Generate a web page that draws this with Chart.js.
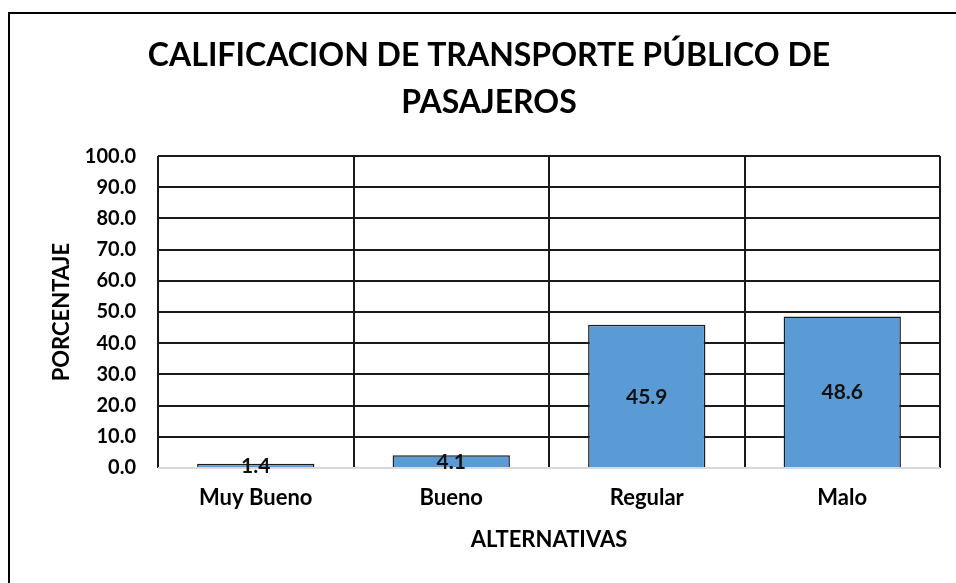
<!DOCTYPE html>
<html>
<head>
<meta charset="utf-8">
<script src="https://cdn.jsdelivr.net/npm/chart.js@4/dist/chart.umd.min.js"></script>
<style>
  html, body { margin: 0; padding: 0; background: #fff; overflow: hidden; }
  #frame {
    position: absolute; left: 8px; top: 12px; width: 1000px; height: 600px;
    border-left: 2px solid #000; border-top: 2px solid #000;
  }
  #wrap { position: absolute; left: 0; top: 0; width: 956px; height: 583px; }
</style>
</head>
<body>
<div id="frame"></div>
<div id="wrap"><canvas id="grafico" width="956" height="583"></canvas></div>
<script>
const categorias = ["Muy Bueno", "Bueno", "Regular", "Malo"];
const porcentajes = [1.4, 4.1, 45.9, 48.6];
const tituloLineas = ["CALIFICACION DE TRANSPORTE PÚBLICO DE", "PASAJEROS"];
const tituloY = "PORCENTAJE";
const tituloX = "ALTERNATIVAS";

const FUENTE = "Lato, 'Open Sans', sans-serif";

// etiquetas de valor dentro de cada barra
const etiquetasBarras = {
  id: "etiquetasBarras",
  afterDatasetsDraw(chart) {
    const ctx = chart.ctx;
    const meta = chart.getDatasetMeta(0);
    ctx.save();
    ctx.font = "bold 21px " + FUENTE;
    ctx.fillStyle = "#111";
    ctx.textAlign = "center";
    ctx.textBaseline = "middle";
    meta.data.forEach((bar, i) => {
      const y = (bar.y + bar.base) / 2;
      ctx.fillText(porcentajes[i].toFixed(1), bar.x, y + 1);
    });
    ctx.restore();
  },
};

new Chart(document.getElementById("grafico"), {
  type: "bar",
  data: {
    labels: categorias,
    datasets: [
      {
        data: porcentajes,
        backgroundColor: "#5B9BD5",
        borderColor: "#1c1c1c",
        borderWidth: 1.5,
        barPercentage: 0.6,
        categoryPercentage: 1,
      },
    ],
  },
  options: {
    responsive: false,
    animation: false,
    layout: {
      padding: { left: 38, right: 16, top: 0, bottom: 0 },
    },
    plugins: {
      legend: { display: false },
      tooltip: { enabled: false },
      title: {
        display: true,
        text: tituloLineas,
        color: "#000",
        font: { family: FUENTE, size: 32, weight: "bold", lineHeight: 1.47 },
        padding: { top: 32, bottom: 30 },
      },
    },
    scales: {
      x: {
        grid: { color: "#1a1a1a", lineWidth: 2, drawTicks: false, offset: true },
        border: { display: false },
        ticks: {
          color: "#000",
          padding: 17,
          font: { family: FUENTE, size: 22, weight: "bold" },
        },
        title: {
          display: true,
          text: tituloX,
          color: "#000",
          font: { family: FUENTE, size: 22, weight: "bold", lineHeight: 1.2 },
          padding: { top: 0, bottom: 30 },
        },
        afterFit(scale) {
          scale.height = 115;
        },
      },
      y: {
        min: 0,
        max: 100,
        grid: {
          color: (c) => (c.tick && c.tick.value === 0 ? "#d9d9d9" : "#1a1a1a"),
          lineWidth: 2,
          drawTicks: false,
        },
        border: { display: false },
        ticks: {
          stepSize: 10,
          color: "#000",
          padding: 22,
          font: { family: FUENTE, size: 20, weight: "bold" },
          callback: (v) => Number(v).toFixed(1),
        },
        title: {
          display: true,
          text: tituloY,
          color: "#000",
          font: { family: FUENTE, size: 22, weight: "bold", lineHeight: 1.2 },
          padding: { top: 11, bottom: 0 },
        },
        afterFit(scale) {
          scale.width = 120;
        },
      },
    },
  },
  plugins: [etiquetasBarras],
});
</script>
</body>
</html>
